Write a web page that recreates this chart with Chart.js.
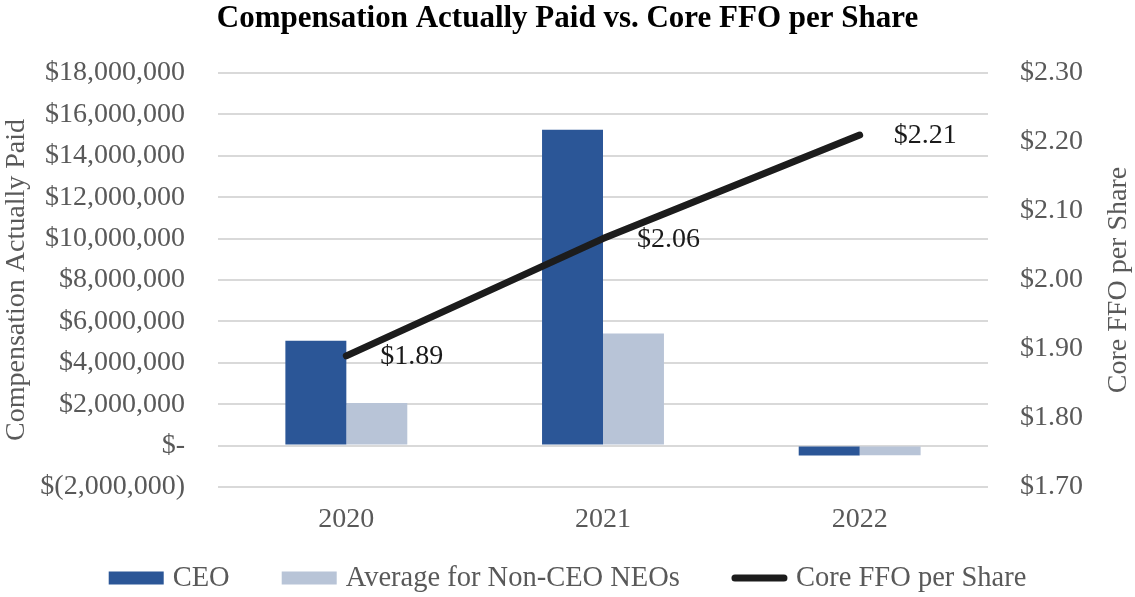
<!DOCTYPE html>
<html>
<head>
<meta charset="utf-8">
<script src="https://cdn.jsdelivr.net/npm/chart.js@4"></script>
<style>
html,body{margin:0;padding:0;background:#fff;}
#wrap{width:1135px;height:597px;position:relative;}
</style>
</head>
<body>
<div id="wrap"><canvas id="c" width="1135" height="597"></canvas></div>
<script>
const categories = ['2020', '2021', '2022'];
const ceoValues = [5060000, 15260000, -480000];
const neoValues = [2060000, 5420000, -470000];
const ffoValues = [1.89, 2.06, 2.21];
const leftTickLabels = ['$(2,000,000)', '$-', '$2,000,000', '$4,000,000', '$6,000,000', '$8,000,000',
  '$10,000,000', '$12,000,000', '$14,000,000', '$16,000,000', '$18,000,000'];
const rightTickLabels = ['$1.70', '$1.80', '$1.90', '$2.00', '$2.10', '$2.20', '$2.30'];
const ffoLabels = ['$1.89', '$2.06', '$2.21'];
const rightAxisTitle = 'Core FFO per Share';

const FONT = "'Liberation Serif', 'Times New Roman', serif";
const GREY = '#595959';

const lineLabelPlugin = {
  id: 'lineLabels',
  afterDatasetsDraw(chart) {
    const meta = chart.getDatasetMeta(2);
    const ctx = chart.ctx;
    ctx.save();
    ctx.font = '28px ' + FONT;
    ctx.fillStyle = '#1a1a1a';
    ctx.textAlign = 'left';
    ctx.textBaseline = 'middle';
    meta.data.forEach((pt, i) => {
      ctx.fillText(ffoLabels[i], pt.x + 34, pt.y + 1);
    });
    ctx.restore();
  }
};

const rightTitlePlugin = {
  id: 'rightTitle',
  afterDraw(chart) {
    const ctx = chart.ctx;
    const ca = chart.chartArea;
    ctx.save();
    ctx.font = '28px ' + FONT;
    ctx.fillStyle = GREY;
    ctx.textAlign = 'center';
    ctx.textBaseline = 'middle';
    ctx.translate(1119, (ca.top + ca.bottom) / 2);
    ctx.rotate(-Math.PI / 2);
    ctx.fillText(rightAxisTitle, 0, 0);
    ctx.restore();
  }
};

// Bottom legend drawn from the datasets (symbol + label)
const customLegendPlugin = {
  id: 'customLegend',
  afterDraw(chart) {
    const ctx = chart.ctx;
    const ds = chart.data.datasets;
    const symW = 55, symH = 13, textGap = 9, itemGap = 52, cy = 578;
    ctx.save();
    ctx.font = '28.5px ' + FONT;
    const widths = ds.map(d => ctx.measureText(d.label).width);
    let total = 0;
    widths.forEach((w, i) => { total += symW + textGap + w + (i < ds.length - 1 ? itemGap : 0); });
    let x = (chart.width - total) / 2;
    ds.forEach((d, i) => {
      if (d.type === 'line') {
        ctx.strokeStyle = d.borderColor;
        ctx.lineWidth = d.borderWidth;
        ctx.lineCap = 'round';
        ctx.beginPath();
        ctx.moveTo(x + 3, cy);
        ctx.lineTo(x + symW - 3, cy);
        ctx.stroke();
      } else {
        ctx.fillStyle = d.backgroundColor;
        ctx.fillRect(x, cy - symH / 2, symW, symH);
      }
      ctx.fillStyle = GREY;
      ctx.textAlign = 'left';
      ctx.textBaseline = 'middle';
      ctx.fillText(d.label, x + symW + textGap, cy + 1);
      x += symW + textGap + widths[i] + itemGap;
    });
    ctx.restore();
  }
};

new Chart(document.getElementById('c'), {
  type: 'bar',
  data: {
    labels: categories,
    datasets: [
      { label: 'CEO', data: ceoValues, backgroundColor: '#2B5697', yAxisID: 'y', order: 1,
        categoryPercentage: 0.475, barPercentage: 1, borderWidth: 0 },
      { label: 'Average for Non-CEO NEOs', data: neoValues, backgroundColor: '#B8C4D7', yAxisID: 'y', order: 1,
        categoryPercentage: 0.475, barPercentage: 1, borderWidth: 0 },
      { label: 'Core FFO per Share', type: 'line', data: ffoValues, yAxisID: 'y1', order: 0,
        borderColor: '#1c1c1c', backgroundColor: '#1c1c1c', borderWidth: 7, pointRadius: 0,
        borderCapStyle: 'round', borderJoinStyle: 'round', tension: 0 }
    ]
  },
  options: {
    responsive: false,
    animation: false,
    devicePixelRatio: 1,
    layout: { padding: { left: 0, right: 0, top: 0, bottom: 0 } },
    plugins: {
      tooltip: { enabled: false },
      legend: { display: false },
      title: {
        display: true,
        text: 'Compensation Actually Paid vs. Core FFO per Share',
        color: '#000',
        font: { family: FONT, size: 31, weight: 'bold' },
        padding: { top: 0, bottom: 35.8 }
      }
    },
    scales: {
      x: {
        grid: { display: false, drawTicks: false },
        border: { display: false },
        ticks: { color: GREY, font: { family: FONT, size: 28 }, padding: 16 },
        afterFit(s) { s.height = 110; }
      },
      y: {
        position: 'left',
        min: -2000000, max: 18000000,
        ticks: { stepSize: 2000000, color: GREY, font: { family: FONT, size: 28 }, padding: 33,
          callback: (v, i) => leftTickLabels[i] },
        grid: { color: '#d9d9d9', lineWidth: 2, drawTicks: false },
        border: { display: false },
        title: { display: true, text: 'Compensation Actually Paid', color: GREY,
          font: { family: FONT, size: 28 }, padding: { top: 0, bottom: 0 } },
        afterFit(s) { s.width = 218; }
      },
      y1: {
        position: 'right',
        min: 1.7, max: 2.3,
        ticks: { stepSize: 0.1, color: GREY, font: { family: FONT, size: 28 }, padding: 32,
          callback: (v, i) => rightTickLabels[i] },
        grid: { drawOnChartArea: false, drawTicks: false },
        border: { display: false },
        afterFit(s) { s.width = 147; }
      }
    }
  },
  plugins: [lineLabelPlugin, rightTitlePlugin, customLegendPlugin]
});
</script>
</body>
</html>
